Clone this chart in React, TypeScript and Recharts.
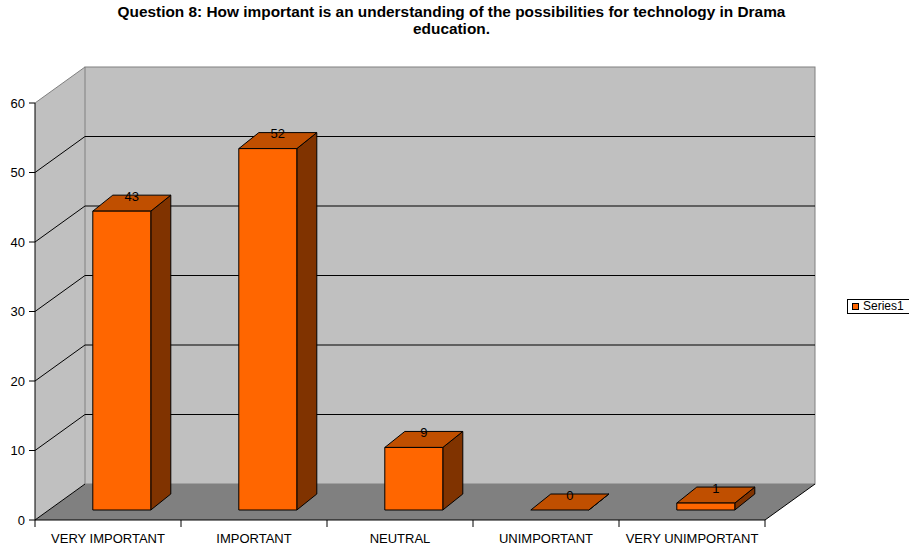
import React from 'react';
import { BarChart, Bar, XAxis, YAxis, ReferenceArea, ReferenceLine, LabelList } from 'recharts';

const categories = ['VERY IMPORTANT', 'IMPORTANT', 'NEUTRAL', 'UNIMPORTANT', 'VERY UNIMPORTANT'];
const series1 = [43, 52, 9, 0, 1];
const yTicks = [0, 10, 20, 30, 40, 50, 60];
const gridValues = [10, 20, 30, 40, 50];
const seriesName = 'Series1';
const titleLines = [
  'Question 8: How important is an understanding of the possibilities for technology in Drama',
  'education.',
];

const data = categories.map((c, i) => ({ category: c, value: series1[i] }));

const FONT = 'Arial, "Liberation Sans", sans-serif';
const DX = 50;
const DY = 36;
const BAR_OFF_X = 14;
const BAR_OFF_Y = 10;
const BAR_DX = 20;
const BAR_DY = 16;

const Walls = (p: any) => {
  const { x, y, width: w, height: h } = p;
  const b = y + h;
  return (
    <g>
      <polygon points={`${x},${y} ${x + DX},${y - DY} ${x + DX},${b - DY} ${x},${b}`} fill="#C0C0C0" stroke="none" />
      <rect x={x + DX} y={y - DY} width={w} height={h} fill="#C0C0C0" stroke="#808080" strokeWidth={1} />
      <polygon points={`${x},${b} ${x + DX},${b - DY} ${x + w + DX},${b - DY} ${x + w},${b}`} fill="#808080" stroke="none" />
      <line x1={x} y1={y} x2={x + DX} y2={y - DY} stroke="#808080" strokeWidth={1} />
      <line x1={x} y1={b} x2={x + DX} y2={b - DY} stroke="#000" strokeWidth={1} />
      <line x1={x + w} y1={b} x2={x + w + DX} y2={b - DY} stroke="#000" strokeWidth={1} />
    </g>
  );
};

const GridLine3D = (p: any) => {
  const { x1, y1, x2 } = p;
  return (
    <g>
      <line x1={x1} y1={y1} x2={x1 + DX} y2={y1 - DY} stroke="#000" strokeWidth={1} />
      <line x1={x1 + DX} y1={y1 - DY} x2={x2 + DX} y2={y1 - DY} stroke="#000" strokeWidth={1} />
    </g>
  );
};

const Bar3D = (p: any) => {
  const { x, y, width: w, height } = p;
  const h = Math.max(0, height || 0);
  const fx = x + BAR_OFF_X;
  const fy = y - BAR_OFF_Y;
  return (
    <g stroke="#000" strokeWidth={1} strokeLinejoin="round">
      <polygon
        points={`${fx + w},${fy} ${fx + w + BAR_DX},${fy - BAR_DY} ${fx + w + BAR_DX},${fy + h - BAR_DY} ${fx + w},${fy + h}`}
        fill="#803300"
      />
      <polygon
        points={`${fx},${fy} ${fx + BAR_DX},${fy - BAR_DY} ${fx + w + BAR_DX},${fy - BAR_DY} ${fx + w},${fy}`}
        fill="#C04F00"
      />
      {h > 0 && <rect x={fx} y={fy} width={w} height={h} fill="#FF6600" />}
    </g>
  );
};

const BarLabel = (p: any) => {
  const { x, y, width: w, value } = p;
  return (
    <text
      x={x + w / 2 + BAR_OFF_X + BAR_DX / 2}
      y={y - BAR_OFF_Y - BAR_DY + 1}
      textAnchor="middle"
      dominantBaseline="central"
      fontSize={13}
      fontFamily={FONT}
      fill="#000"
    >
      {value}
    </text>
  );
};

const XTick = (p: any) => {
  const { x, y, payload, index } = p;
  const half = typeof payload?.offset === 'number' && payload.offset > 0 ? payload.offset : 73;
  const top = y - 7;
  return (
    <g>
      <line x1={x - half} y1={top} x2={x - half} y2={top + 7} stroke="#000" />
      {index === categories.length - 1 && <line x1={x + half} y1={top} x2={x + half} y2={top + 7} stroke="#000" />}
      <text x={x} y={top + 23} textAnchor="middle" fontSize={13} fontFamily={FONT} fill="#000">
        {payload.value}
      </text>
    </g>
  );
};

export default function App() {
  return (
    <div style={{ position: 'absolute', left: 0, top: 0, width: 909, height: 548, background: '#fff', overflow: 'hidden' }}>
      <div
        style={{
          position: 'absolute',
          left: -3,
          top: 3,
          width: 909,
          textAlign: 'center',
          fontFamily: FONT,
          fontWeight: 'bold',
          fontSize: 15.4,
          lineHeight: '17px',
          color: '#000',
        }}
      >
        {titleLines.map((t, i) => (
          <div key={i}>{t}</div>
        ))}
      </div>
      <div style={{ position: 'absolute', left: 0, top: 0 }}>
        <BarChart
          width={909}
          height={548}
          data={data}
          margin={{ top: 103, right: 144, bottom: 0, left: 0 }}
          barCategoryGap="30%"
        >
          <ReferenceArea y1={0} y2={60} ifOverflow="visible" shape={Walls} zIndex={-200} />
          {gridValues.map((v) => (
            <ReferenceLine key={v} y={v} ifOverflow="visible" shape={GridLine3D} zIndex={-150} />
          ))}
          <XAxis
            dataKey="category"
            height={28}
            tickLine={false}
            tickSize={7}
            tickMargin={0}
            axisLine={{ stroke: '#000' }}
            tick={XTick}
            interval={0}
          />
          <YAxis
            width={35}
            domain={[0, 60]}
            ticks={yTicks}
            tickSize={6}
            tickMargin={4}
            axisLine={{ stroke: '#000' }}
            tickLine={{ stroke: '#000' }}
            tick={{ fill: '#000', fontSize: 13, fontFamily: FONT }}
            interval={0}
          />
          <Bar dataKey="value" name={seriesName} shape={Bar3D} isAnimationActive={false}>
            <LabelList dataKey="value" content={BarLabel} />
          </Bar>
        </BarChart>
      </div>
      <div
        style={{
          position: 'absolute',
          left: 847,
          top: 299,
          width: 70,
          height: 13,
          border: '1px solid #000',
          background: '#fff',
          fontFamily: FONT,
          fontSize: 12,
          lineHeight: '13px',
          color: '#000',
          whiteSpace: 'nowrap',
        }}
      >
        <span
          style={{
            position: 'absolute',
            left: 4,
            top: 3,
            width: 5,
            height: 5,
            background: '#FF6600',
            border: '1px solid #000',
          }}
        />
        <span style={{ position: 'absolute', left: 15, top: 0 }}>{seriesName}</span>
      </div>
    </div>
  );
}
